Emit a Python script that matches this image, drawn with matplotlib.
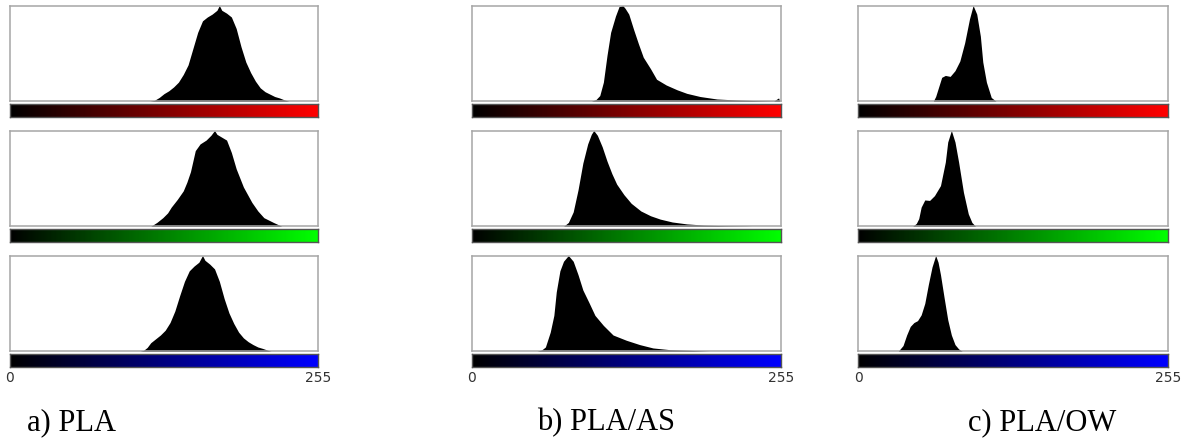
import numpy as np
import matplotlib
matplotlib.use("Agg")
import matplotlib.pyplot as plt

# ---------------- data (relative pixel counts vs. intensity level) ----------------
a_red_lv = [116, 120, 124, 128, 132, 136, 140, 144, 148, 152, 156, 160, 164, 168, 172, 174, 176, 180, 184, 188, 192, 196, 200, 204, 208, 212, 216, 220, 224, 228, 232]
a_red_ct = [0, 0.01, 0.04, 0.08, 0.11, 0.15, 0.2, 0.28, 0.38, 0.55, 0.72, 0.84, 0.88, 0.91, 0.95, 1.0, 0.95, 0.92, 0.88, 0.76, 0.57, 0.41, 0.3, 0.21, 0.14, 0.1, 0.075, 0.05, 0.035, 0.015, 0]

a_green_lv = [117, 122, 127, 131, 134, 139, 144, 147, 150, 154, 158, 163, 167, 170, 172, 176, 180, 184, 188, 194, 201, 206, 211, 219, 226]
a_green_ct = [0, 0.04, 0.09, 0.14, 0.2, 0.28, 0.37, 0.46, 0.57, 0.79, 0.86, 0.9, 0.95, 1.0, 0.96, 0.93, 0.9, 0.77, 0.6, 0.41, 0.25, 0.16, 0.09, 0.04, 0]

a_blue_lv = [108, 111, 114, 117, 121, 125, 129, 133, 137, 141, 145, 149, 153, 157, 160, 162, 166, 170, 174, 178, 182, 186, 190, 194, 198, 202, 206, 210, 214, 217]
a_blue_ct = [0, 0.01, 0.04, 0.09, 0.13, 0.17, 0.22, 0.3, 0.42, 0.58, 0.73, 0.84, 0.89, 0.93, 1.0, 0.95, 0.91, 0.86, 0.73, 0.55, 0.4, 0.29, 0.2, 0.14, 0.1, 0.07, 0.045, 0.03, 0.012, 0]

b_red_lv = [99, 103, 106, 109, 112, 115, 119, 122, 125, 127, 130, 134, 138, 142, 148, 153, 161, 170, 178, 189, 203, 219, 236, 250, 254, 255]
b_red_ct = [0, 0.02, 0.06, 0.2, 0.48, 0.72, 0.89, 0.99, 1.0, 0.97, 0.91, 0.75, 0.6, 0.46, 0.34, 0.23, 0.17, 0.12, 0.083, 0.05, 0.024, 0.014, 0.007, 0.003, 0.035, 0]

b_green_lv = [76, 80, 84, 88, 92, 96, 99, 101, 104, 108, 112, 116, 120, 126, 132, 140, 148, 156, 166, 178, 192, 210, 228, 232]
b_green_ct = [0, 0.04, 0.15, 0.38, 0.66, 0.86, 0.96, 1.0, 0.95, 0.83, 0.68, 0.55, 0.44, 0.33, 0.24, 0.16, 0.11, 0.075, 0.045, 0.025, 0.013, 0.006, 0.002, 0]

b_blue_lv = [54, 58, 61, 65, 68, 70, 73, 76, 80, 84, 88, 92, 97, 102, 109, 117, 128, 139, 150, 164, 181, 197]
b_blue_ct = [0, 0.015, 0.045, 0.2, 0.375, 0.62, 0.84, 0.94, 1.0, 0.94, 0.8, 0.64, 0.51, 0.375, 0.27, 0.17, 0.115, 0.07, 0.035, 0.017, 0.01, 0]

c_red_lv = [62, 64, 66, 69, 72, 76, 80, 84, 88, 92, 95, 98, 101, 103, 106, 110, 114]
c_red_ct = [0, 0.05, 0.13, 0.25, 0.27, 0.26, 0.32, 0.42, 0.61, 0.86, 1.0, 0.91, 0.68, 0.41, 0.2, 0.04, 0]

c_green_lv = [45, 48, 50, 52, 55, 59, 63, 68, 72, 74, 77, 80, 83, 87, 91, 94, 97]
c_green_ct = [0, 0.03, 0.08, 0.2, 0.275, 0.27, 0.32, 0.425, 0.67, 0.88, 1.0, 0.88, 0.67, 0.355, 0.13, 0.04, 0]

c_blue_lv = [33, 37, 40, 43, 46, 49, 52, 55, 58, 61, 64, 66, 68, 71, 74, 77, 80, 83, 86]
c_blue_ct = [0, 0.06, 0.17, 0.26, 0.3, 0.32, 0.38, 0.5, 0.7, 0.88, 1.0, 0.93, 0.8, 0.56, 0.33, 0.17, 0.07, 0.025, 0]

captions = ["a) PLA", "b) PLA/AS", "c) PLA/OW"]
range_labels = ["0", "255"]
channel_colors = [(1, 0, 0), (0, 1, 0), (0, 0, 1)]

hists = [
    [(a_red_lv, a_red_ct), (a_green_lv, a_green_ct), (a_blue_lv, a_blue_ct)],
    [(b_red_lv, b_red_ct), (b_green_lv, b_green_ct), (b_blue_lv, b_blue_ct)],
    [(c_red_lv, c_red_ct), (c_green_lv, c_green_ct), (c_blue_lv, c_blue_ct)],
]

# ---------------- layout (pixels) ----------------
W, H = 1186, 439
col_x = [(10, 318), (471.7, 781), (858.3, 1167.7)]
row_step = 125
box_top0, box_bot0 = 6.5, 102.3
bar_top0, bar_bot0 = 105.0, 118.0
caption_x = [27, 537, 968]
caption_base_y = 430

fig = plt.figure(figsize=(W / 100, H / 100), dpi=100)
fig.patch.set_facecolor("white")


def rect(x0, x1, ytop, ybot):
    return [x0 / W, 1 - ybot / H, (x1 - x0) / W, (ybot - ytop) / H]


for ci, (x0, x1) in enumerate(col_x):
    for ri in range(3):
        lv, ct = hists[ci][ri]
        ax = fig.add_axes(rect(x0, x1, box_top0 + ri * row_step, box_bot0 + ri * row_step))
        ax.fill_between(lv, ct, 0, color="black", linewidth=0)
        ax.set_xlim(0, 256)
        ax.set_ylim(0, 1.0)
        ax.set_xticks([])
        ax.set_yticks([])
        for s in ax.spines.values():
            s.set_color("#a6a6a6")
            s.set_linewidth(1.1)

        cax = fig.add_axes(rect(x0, x1, bar_top0 + ri * row_step, bar_bot0 + ri * row_step))
        grad = np.linspace(0, 1, 256)
        img = np.zeros((1, 256, 3))
        for k in range(3):
            img[0, :, k] = grad * channel_colors[ri][k]
        cax.imshow(img, aspect="auto", extent=[0, 256, 0, 1], interpolation="nearest")
        cax.set_xlim(0, 256)
        cax.set_xticks([])
        cax.set_yticks([])
        for s in cax.spines.values():
            s.set_color("#555555")
            s.set_linewidth(1.0)

    ylab = 1 - 378 / H
    fig.text(x0 / W, ylab, range_labels[0], ha="center", va="center",
             fontsize=10, color="#333333", family="DejaVu Sans")
    fig.text(x1 / W, ylab, range_labels[1], ha="center", va="center",
             fontsize=10, color="#333333", family="DejaVu Sans")
    fig.text(caption_x[ci] / W, 1 - caption_base_y / H, captions[ci], ha="left",
             va="baseline", fontsize=22, color="black", family="Liberation Serif")

fig.savefig("out.png", dpi=100, facecolor="white")
